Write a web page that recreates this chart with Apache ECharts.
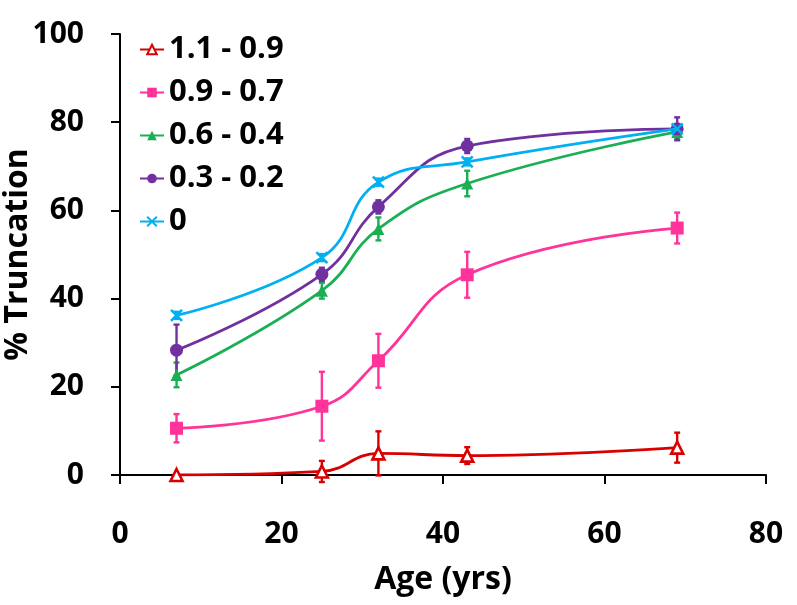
<!DOCTYPE html>
<html><head><meta charset="utf-8">
<script src="https://cdn.jsdelivr.net/npm/echarts@6/dist/echarts.min.js"></script>
<style>html,body{margin:0;padding:0;background:#fff}#c{width:797px;height:605px}</style>
</head><body><div id="c"></div>
<script>
const ages = [7, 25, 32, 43, 69];
const seriesNames = ['1.1 - 0.9', '0.9 - 0.7', '0.6 - 0.4', '0.3 - 0.2', '0'];
const v11_09 = [0, 0.8, 4.9, 4.4, 6.2];
const e11_09 = [0, 2.4, 5.0, 1.9, 3.4];
const v09_07 = [10.6, 15.6, 25.9, 45.4, 56.0];
const e09_07 = [3.2, 7.8, 6.1, 5.2, 3.5];
const v06_04 = [22.7, 41.8, 55.8, 66.1, 77.8];
const e06_04 = [2.8, 1.8, 2.6, 2.9, 1.5];
const v03_02 = [28.3, 45.5, 60.8, 74.6, 78.5];
const e03_02 = [5.8, 1.5, 1.5, 1.6, 2.6];
const v0 = [36.2, 49.3, 66.4, 71.0, 78.5];
const e0 = [0.8, 0.8, 0.8, 0.8, 0.8];
const xTicks = [0, 20, 40, 60, 80];
const yTicks = [0, 20, 40, 60, 80, 100];

const colors = ['#D80000', '#FF3399', '#1AAF54', '#7030A0', '#00B0F0'];
const vals = [v11_09, v09_07, v06_04, v03_02, v0];
const errs = [e11_09, e09_07, e06_04, e03_02, e0];
const symbols = ['triangle', 'rect', 'triangle', 'circle', 'path://M0,0L10,10M10,0L0,10'];
const symSizes = [12, 13, 12, 13, 11];
const FONT = 'Open Sans';

const series = [];
vals.forEach((v, i) => {
  series.push({
    type: 'custom',
    name: seriesNames[i] + ' err',
    z: 2,
    silent: true,
    data: ages.map((a, k) => [a, v[k] - errs[i][k], v[k] + errs[i][k]]),
    renderItem: function (params, api) {
      const lo = api.coord([api.value(0), api.value(1)]);
      const hi = api.coord([api.value(0), api.value(2)]);
      const w = 3;
      const st = { stroke: colors[i], lineWidth: 2.4 };
      return {
        type: 'group',
        children: [
          { type: 'line', shape: { x1: lo[0], y1: lo[1], x2: hi[0], y2: hi[1] }, style: st },
          { type: 'line', shape: { x1: lo[0] - w, y1: lo[1], x2: lo[0] + w, y2: lo[1] }, style: st },
          { type: 'line', shape: { x1: hi[0] - w, y1: hi[1], x2: hi[0] + w, y2: hi[1] }, style: st }
        ]
      };
    }
  });
});
vals.forEach((v, i) => {
  const hollow = i === 0;
  series.push({
    type: 'line',
    name: seriesNames[i],
    z: 3 + i,
    smooth: 0.45,
    data: ages.map((a, k) => [a, v[k]]),
    symbol: symbols[i],
    symbolSize: symSizes[i],
    showAllSymbol: true,
    lineStyle: { color: colors[i], width: 2.8 },
    itemStyle: {
      color: hollow ? '#ffffff' : colors[i],
      borderColor: colors[i],
      borderWidth: (hollow || i === 4) ? 2.6 : 0
    },
    emphasis: { disabled: true }
  });
});

const chart = echarts.init(document.getElementById('c'));
chart.setOption({
  animation: false,
  backgroundColor: '#ffffff',
  grid: { left: 120, right: 31, top: 34, bottom: 130, containLabel: false, outerBoundsMode: 'none' },
  legend: {
    data: seriesNames,
    orient: 'vertical',
    left: 134,
    top: 29,
    itemWidth: 24,
    itemHeight: 12,
    itemGap: 12,
    textStyle: { fontFamily: FONT, fontWeight: 'bold', fontSize: 31, color: '#000' }
  },
  xAxis: {
    type: 'value', min: 0, max: 80, interval: 20,
    name: 'Age (yrs)', nameLocation: 'middle', nameGap: 89,
    nameTextStyle: { fontFamily: FONT, fontWeight: 'bold', fontSize: 32, color: '#000' },
    axisLine: { show: true, lineStyle: { color: '#000', width: 2 } },
    axisTick: { show: true, length: 9, lineStyle: { color: '#000', width: 2 } },
    axisLabel: { fontFamily: FONT, fontWeight: 'bold', fontSize: 30, color: '#000', margin: 44,
      formatter: v => xTicks.includes(v) ? String(v) : '' },
    splitLine: { show: false }
  },
  yAxis: {
    type: 'value', min: 0, max: 100, interval: 20,
    name: '% Truncation', nameLocation: 'middle', nameGap: 86, nameRotate: 90,
    nameMoveOverlap: false,
    nameTextStyle: { fontFamily: FONT, fontWeight: 'bold', fontSize: 32, color: '#000' },
    axisLine: { show: true, lineStyle: { color: '#000', width: 2 } },
    axisTick: { show: true, length: 9, lineStyle: { color: '#000', width: 2 } },
    axisLabel: { fontFamily: FONT, fontWeight: 'bold', fontSize: 30, color: '#000', margin: 36,
      formatter: v => yTicks.includes(v) ? String(v) : '' },
    splitLine: { show: false }
  },
  series: series
});
</script></body></html>
